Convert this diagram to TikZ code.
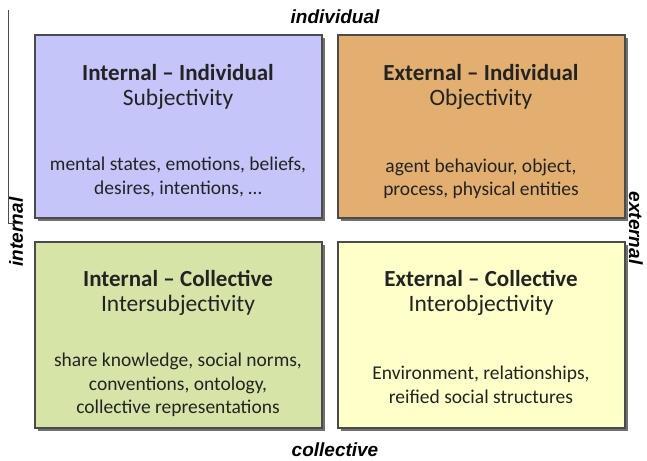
\documentclass[tikz,border=0pt]{standalone}
\usepackage{fontspec}
\setmainfont{Carlito}
\newfontfamily\axisfont{Liberation Sans}
\usetikzlibrary{shadows}

\definecolor{subjfill}{RGB}{197,197,250}
\definecolor{objfill}{RGB}{226,175,112}
\definecolor{intersubjfill}{RGB}{214,228,168}
\definecolor{interobjfill}{RGB}{255,255,202}
\definecolor{framegray}{RGB}{75,75,75}
\definecolor{inkgray}{RGB}{35,35,35}

\tikzset{
  quadrant/.style={draw=framegray, line width=1.2pt, minimum width=287pt,
    drop shadow={shadow xshift=3pt, shadow yshift=-3pt, fill=black!65, opacity=.85}},
  qtitle/.style={font=\bfseries\fontsize{23}{26}\selectfont, text=inkgray, inner sep=0pt},
  qsub/.style={font=\fontsize{23.5}{26}\selectfont, text=inkgray, inner sep=0pt},
  qbody/.style={font=\fontsize{19.5}{23.5}\selectfont, text=inkgray, align=center, inner sep=0pt},
  axislabel/.style={font=\axisfont\bfseries\itshape\fontsize{19}{22}\selectfont, text=black, inner sep=0pt},
}

\begin{document}
\begin{tikzpicture}[x=1pt,y=-1pt]
\useasboundingbox[fill=white] (0,0) rectangle (647,460);

% the four quadrants
\node[quadrant, fill=subjfill, minimum height=183pt] (ii) at (178.5,126.5) {};
\node[quadrant, fill=objfill, minimum height=183pt] (ei) at (481.5,126.5) {};
\node[quadrant, fill=intersubjfill, minimum height=186pt] (ic) at (178.5,335) {};
\node[quadrant, fill=interobjfill, minimum height=186pt] (ec) at (481.5,335) {};

% internal - individual
\node[qtitle] (ii-t) at (178,73) {Internal – Individual};
\node[qsub] (ii-s) at (178,99) {Subjectivity};
\node[qbody] (ii-b) at (178,177) {mental states, emotions, beliefs,\\ desires, intentions, …};

% external - individual
\node[qtitle] (ei-t) at (481,73) {External – Individual};
\node[qsub] (ei-s) at (481,99) {Objectivity};
\node[qbody] (ei-b) at (481,179) {agent behaviour, object,\\ process, physical entities};

% internal - collective
\node[qtitle] (ic-t) at (178,278) {Internal – Collective};
\node[qsub] (ic-s) at (178,305) {Intersubjectivity};
\node[qbody] (ic-b) at (178,385) {share knowledge, social norms,\\ conventions, ontology,\\ collective representations};

% external - collective
\node[qtitle] (ec-t) at (481,278) {External – Collective};
\node[qsub] (ec-s) at (481,305) {Interobjectivity};
\node[qbody] (ec-b) at (481,385) {Environment, relationships,\\ reified social structures};

% axis labels
\node[axislabel] (ax-top) at (335,17) {individual};
\node[axislabel] (ax-bot) at (335,450) {collective};
\node[axislabel, rotate=90] (ax-left) at (16,232) {internal};
\node[axislabel, rotate=-90] (ax-right) at (636,228) {external};

% thin rule at the left margin
\coordinate (rule-top) at (8,10);
\coordinate (rule-bend) at (8,223);
\coordinate (rule-end) at (23,223);
\draw[black!70, line width=0.6pt] (rule-top) -- (rule-bend) -- (rule-end);
\end{tikzpicture}
\end{document}
